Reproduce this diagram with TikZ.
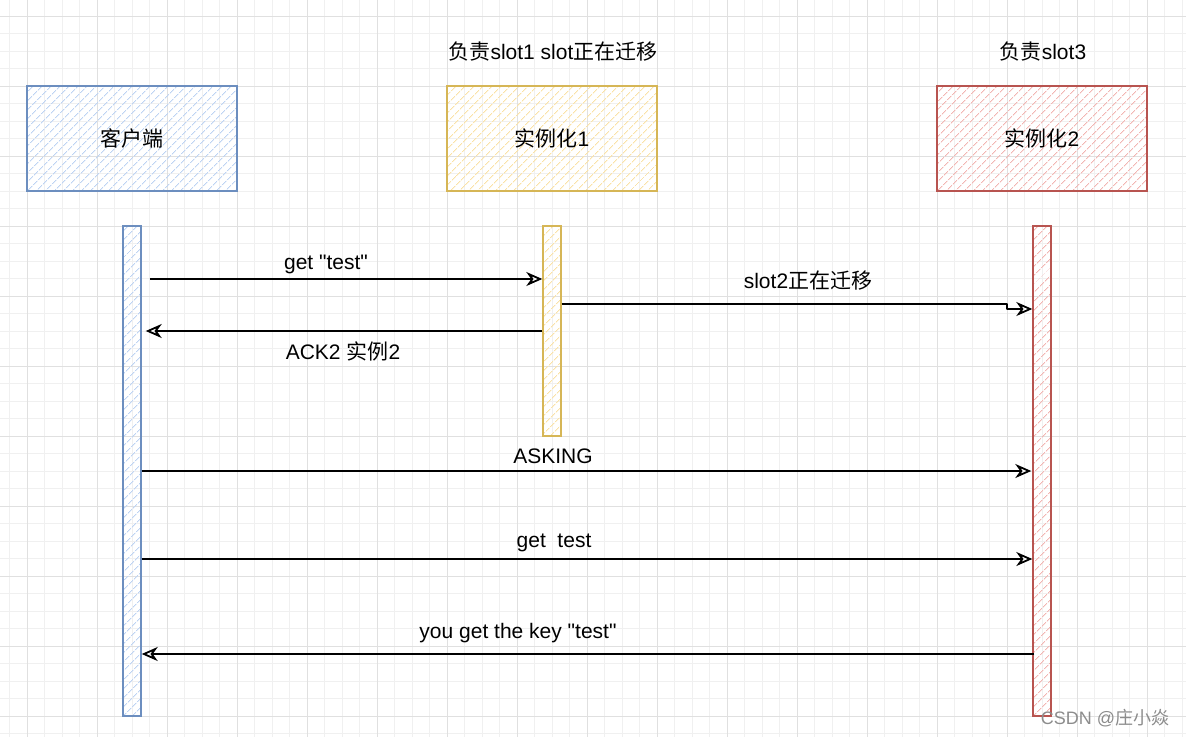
\documentclass[tikz,border=0pt]{standalone}
\usepackage{fontspec}
\setmainfont{Liberation Sans}[Ligatures=NoCommon,Mapping=]
\newfontfamily\cjk{Noto Sans CJK SC}
\usetikzlibrary{arrows.meta,patterns.meta,calc}
\newcommand\mydq{\symbol{34}}
\definecolor{bluestroke}{HTML}{6C8EBF}
\definecolor{bluehatch}{HTML}{BDD3F3}
\definecolor{yelstroke}{HTML}{D6B656}
\definecolor{yelhatch}{HTML}{FAE2A6}
\definecolor{redstroke}{HTML}{B85450}
\definecolor{redhatch}{HTML}{F2B5B2}
\definecolor{gridminor}{HTML}{F0F0F0}
\definecolor{gridmajor}{HTML}{E0E0E0}
\tikzset{
  box/.style={minimum width=210pt, minimum height=105pt, line width=1.9pt, inner sep=0pt,
              font=\fontsize{21}{25}\selectfont},
  lifebar/.style={minimum width=17.5pt, inner sep=0pt, line width=1.9pt},
  hatch/.style={pattern={Lines[angle=45,distance=6.5pt,line width=1.1pt]}, pattern color=#1},
  lbl/.style={font=\fontsize{21}{25}\selectfont, inner sep=0pt},
  msg/.style={line width=1.8pt, line join=round,
              -{Stealth[open,length=16pt,width=14pt,inset=5pt,line width=1.8pt]}},
}
\begin{document}
\begin{tikzpicture}[x=1pt,y=-1pt]
\useasboundingbox (0,0) rectangle (1186,737);
\fill[white] (0,0) rectangle (1186,737);
% grid
\foreach \i in {0,...,67} {\draw[gridminor, line width=0.8pt] ({9.5+17.5*\i},0) -- ({9.5+17.5*\i},737);}
\foreach \j in {1,...,42} {\draw[gridminor, line width=0.8pt] (0,{-1.5+17.5*\j}) -- (1186,{-1.5+17.5*\j});}
\foreach \i in {1,...,17} {\draw[gridmajor, line width=0.9pt] ({-43+70*\i},0) -- ({-43+70*\i},737);}
\foreach \j in {0,...,10} {\draw[gridmajor, line width=0.9pt] (0,{16+70*\j}) -- (1186,{16+70*\j});}

% header boxes
\node[box, draw=bluestroke, hatch=bluehatch] (client) at (132,138.5) {\cjk 客户端};
\node[box, draw=yelstroke, hatch=yelhatch] (inst1) at (552,138.5) {{\cjk 实例化}1};
\node[box, draw=redstroke, hatch=redhatch] (inst2) at (1042,138.5) {{\cjk 实例化}2};

% captions
\node[lbl] (cap1) at (553,52) {{\cjk 负责}slot1 slot{\cjk 正在迁移}};
\node[lbl] (cap2) at (1043,52) {{\cjk 负责}slot3};

% lifeline bars
\node[lifebar, draw=bluestroke, hatch=bluehatch, minimum height=490pt] (cbar) at (132,471) {};
\node[lifebar, draw=yelstroke, hatch=yelhatch, minimum height=210pt] (ibar1) at (552,331) {};
\node[lifebar, draw=redstroke, hatch=redhatch, minimum height=490pt] (ibar2) at (1042,471) {};

% messages
\draw[msg] ([xshift=8pt]cbar.east |- 0,279) -- (ibar1.west |- 0,279);
\node[lbl] (m1) at (326,264) {get \mydq test\mydq};

\coordinate (jog) at (1007,304);
\draw[msg] (ibar1.east |- 0,304) -- (jog) -- (jog |- 0,309) -- (ibar2.west |- 0,309);
\node[lbl] (m2) at (808,281) {slot2{\cjk 正在迁移}};

\draw[msg] (ibar1.west |- 0,331) -- ([xshift=4pt]cbar.east |- 0,331);
\node[lbl] (m3) at (343,351) {ACK2 {\cjk 实例}2};

\draw[msg] (cbar.east |- 0,471) -- ([xshift=-1pt]ibar2.west |- 0,471);
\node[lbl] (m4) at (553,456) {ASKING};

\draw[msg] (cbar.east |- 0,559) -- (ibar2.west |- 0,559);
\node[lbl] (m5) at (554,543) {get\ \ test};

\draw[msg] ([xshift=2pt]ibar2.west |- 0,654) -- (cbar.east |- 0,654);
\node[lbl] (m6) at (518,633) {you get the key \mydq test\mydq};

% watermark
\node[font=\fontsize{18}{22}\selectfont, text=black!45, inner sep=0pt] (wm) at (1105,718) {CSDN @{\cjk 庄小焱}};
\end{tikzpicture}
\end{document}
